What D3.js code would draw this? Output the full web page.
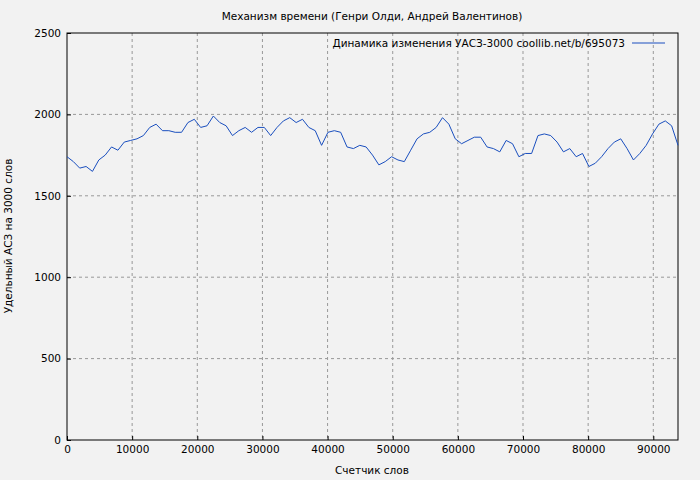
<!DOCTYPE html>
<html><head><meta charset="utf-8"><script src="https://cdn.jsdelivr.net/npm/d3@7"></script>
<style>body{margin:0;background:#f2f2f2}svg{display:block;font-family:"DejaVu Sans",sans-serif}</style></head>
<body><svg id="c" width="700" height="480"></svg>
<script>
const wordStep=977;
const yValues=[1740,1710,1670,1680,1650,1720,1750,1800,1780,1830,1840,1850,1870,1920,1940,1900,1900,1890,1890,1950,1970,1920,1930,1990,1950,1930,1870,1900,1920,1890,1920,1920,1870,1920,1960,1980,1950,1970,1920,1900,1810,1890,1900,1890,1800,1790,1810,1800,1750,1690,1710,1740,1720,1710,1780,1850,1880,1890,1920,1980,1940,1850,1820,1840,1860,1860,1800,1790,1770,1840,1820,1740,1760,1760,1870,1880,1870,1830,1770,1790,1740,1760,1680,1700,1740,1790,1830,1850,1790,1720,1760,1810,1880,1940,1960,1930,1810];
const xValues=yValues.map((_,i)=>i*wordStep);
const xTicks=[0,10000,20000,30000,40000,50000,60000,70000,80000,90000];
const yTicks=[0,500,1000,1500,2000,2500];
const title="Механизм времени (Генри Олди, Андрей Валентинов)";
const legendText="Динамика изменения УАСЗ-3000 coollib.net/b/695073";
const svg=d3.select("#c");
const L=67,R=678,T=33,B=440;
const x=d3.scaleLinear().domain([0,xValues[xValues.length-1]]).range([L,R]);
const y=d3.scaleLinear().domain([0,2500]).range([B,T]);
const g=svg.append("g");
g.selectAll(".gx").data(xTicks.slice(1)).join("line").attr("x1",d=>x(d)).attr("x2",d=>x(d)).attr("y1",T).attr("y2",B).attr("stroke","#999").attr("stroke-dasharray","3,3");
g.selectAll(".gy").data(yTicks.slice(1,-1)).join("line").attr("y1",d=>y(d)).attr("y2",d=>y(d)).attr("x1",L).attr("x2",R).attr("stroke","#999").attr("stroke-dasharray","3,3");
svg.append("rect").attr("x",L).attr("y",T).attr("width",R-L).attr("height",B-T).attr("fill","none").attr("stroke","#000");
const ax=svg.append("g").attr("transform",`translate(0,${B})`).call(d3.axisBottom(x).tickValues(xTicks).tickFormat(d3.format("d")).tickSize(-4).tickPadding(6));
const ay=svg.append("g").attr("transform",`translate(${L},0)`).call(d3.axisLeft(y).tickValues(yTicks).tickFormat(d3.format("d")).tickSize(-4).tickPadding(6));
[ax,ay].forEach(a=>{a.select(".domain").remove();a.selectAll("text").attr("font-size",10.5).attr("fill","#000").attr("font-family","DejaVu Sans");});
svg.append("path").datum(xValues.map((v,i)=>[v,yValues[i]])).attr("fill","none").attr("stroke","#1a4fbf").attr("stroke-width",1)
 .attr("d",d3.line().x(d=>x(d[0])).y(d=>y(d[1])));
svg.append("text").attr("x",372).attr("y",20).attr("text-anchor","middle").attr("font-size",10.5).text(title);
svg.append("text").attr("x",625).attr("y",47).attr("text-anchor","end").attr("font-size",10.5).text(legendText);
svg.append("line").attr("x1",632).attr("x2",665).attr("y1",43).attr("y2",43).attr("stroke","#1a4fbf");
svg.append("text").attr("x",372).attr("y",474).attr("text-anchor","middle").attr("font-size",10.5).text("Счетчик слов");
svg.append("text").attr("transform","translate(12,236) rotate(-90)").attr("text-anchor","middle").attr("font-size",10.5).text("Удельный АСЗ на 3000 слов");
</script></body></html>
